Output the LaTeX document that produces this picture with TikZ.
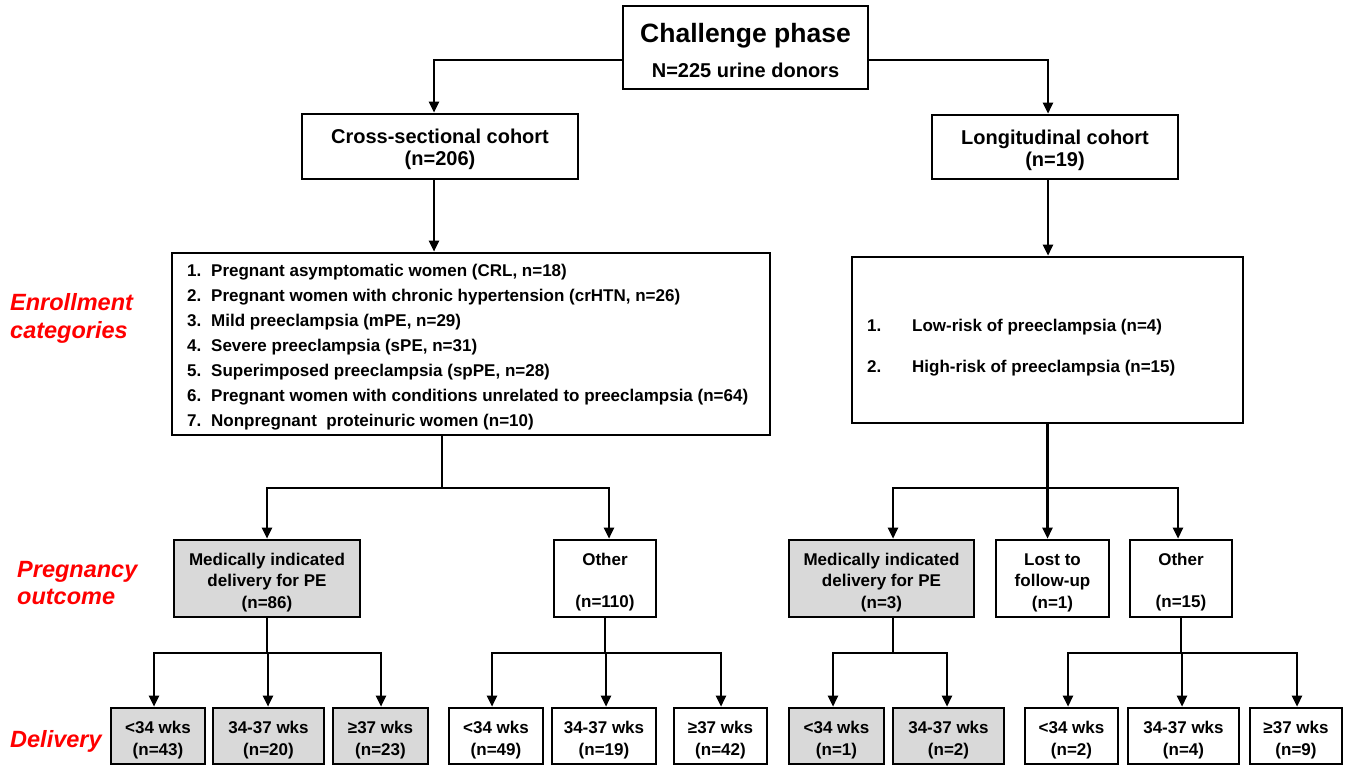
\documentclass[tikz,border=0pt]{standalone}
\usepackage{fontspec}
\setmainfont{Liberation Sans}
\usetikzlibrary{arrows.meta}
\newcommand\fsz[2]{\fontsize{#1}{#2}\selectfont\bfseries}
\newcommand\st{\rule{0pt}{20.5pt}}
\begin{document}
\begin{tikzpicture}[x=1pt,y=-1pt,
  box/.style={draw, line width=2.6pt, inner sep=0pt, align=center, font=\fsz{17}{21.5}},
  cbox/.style={box, font=\fsz{20}{22}},
  gbox/.style={box, fill=black!15},
  ln/.style={line width=2.4pt},
  arr/.style={line width=2.4pt, -{Triangle[length=11pt,width=10pt]}},
  lbl/.style={anchor=base west, inner sep=0pt, text=red, font=\fontsize{23.5}{28}\selectfont\bfseries\itshape},
  item/.style={anchor=base west, inner sep=0pt, font=\fsz{17}{21}}
]
\useasboundingbox (0,0) rectangle (1350,766);

% top
\node[box, minimum width=245pt, minimum height=83pt] (top) at (745.5,47.5) {};
\node[anchor=base, inner sep=0pt, font=\fsz{26.5}{30}] (topT) at (745.5,42) {Challenge phase};
\node[anchor=base, inner sep=0pt, font=\fsz{20}{22}] (topS) at (745.5,77) {N=225 urine donors};

% cohorts
\node[cbox, minimum width=276pt, minimum height=65pt] (cross) at (440,146.5) {\st Cross-sectional cohort\\(n=206)};
\node[cbox, minimum width=246pt, minimum height=64pt] (long) at (1055,147) {\st Longitudinal cohort\\(n=19)};

% lists
\node[box, minimum width=598pt, minimum height=182pt] (list) at (471,344) {};
\node[item] (c1) at (187,276) {\makebox[24pt][l]{1.}Pregnant asymptomatic women (CRL, n=18)};
\node[item] (c2) at (187,301) {\makebox[24pt][l]{2.}Pregnant women with chronic hypertension (crHTN, n=26)};
\node[item] (c3) at (187,326) {\makebox[24pt][l]{3.}Mild preeclampsia (mPE, n=29)};
\node[item] (c4) at (187,351) {\makebox[24pt][l]{4.}Severe preeclampsia (sPE, n=31)};
\node[item] (c5) at (187,376) {\makebox[24pt][l]{5.}Superimposed preeclampsia (spPE, n=28)};
\node[item] (c6) at (187,401) {\makebox[24pt][l]{6.}Pregnant women with conditions unrelated to preeclampsia (n=64)};
\node[item] (c7) at (187,426) {\makebox[24pt][l]{7.}Nonpregnant\ \ proteinuric women (n=10)};

\node[box, minimum width=391pt, minimum height=166pt] (llist) at (1047.5,340) {};
\node[item] (l1) at (867,331) {\makebox[45pt][l]{1.}Low-risk of preeclampsia (n=4)};
\node[item] (l2) at (867,372) {\makebox[45pt][l]{2.}High-risk of preeclampsia (n=15)};

% outcomes
\node[gbox, minimum width=186pt, minimum height=77pt] (medL) at (267,578.5) {\st Medically indicated\\delivery for PE\\(n=86)};
\node[box, minimum width=102pt, minimum height=77pt] (othL) at (605,578.5) {\st Other\\[20.5pt](n=110)};
\node[gbox, minimum width=185pt, minimum height=77pt] (medR) at (881.5,578.5) {\st Medically indicated\\delivery for PE\\(n=3)};
\node[box, minimum width=113pt, minimum height=77pt] (lost) at (1052.5,578.5) {\st Lost to\\follow-up\\(n=1)};
\node[box, minimum width=102pt, minimum height=77pt] (othR) at (1181,578.5) {\st Other\\[20.5pt](n=15)};

% delivery
\node[gbox, minimum width=94pt, minimum height=56pt] (d1) at (158,736) {\st <34 wks\\(n=43)};
\node[gbox, minimum width=111pt, minimum height=56pt] (d2) at (268.5,736) {\st 34-37 wks\\(n=20)};
\node[gbox, minimum width=95pt, minimum height=56pt] (d3) at (380.5,736) {\st ≥37 wks\\(n=23)};
\node[box, minimum width=94pt, minimum height=56pt] (o1) at (496,736) {\st <34 wks\\(n=49)};
\node[box, minimum width=104pt, minimum height=56pt] (o2) at (604,736) {\st 34-37 wks\\(n=19)};
\node[box, minimum width=93pt, minimum height=56pt] (o3) at (720.5,736) {\st ≥37 wks\\(n=42)};
\node[gbox, minimum width=95pt, minimum height=56pt] (r1) at (836.5,736) {\st <34 wks\\(n=1)};
\node[gbox, minimum width=111pt, minimum height=56pt] (r2) at (948.5,736) {\st 34-37 wks\\(n=2)};
\node[box, minimum width=93pt, minimum height=56pt] (s1) at (1071.5,736) {\st <34 wks\\(n=2)};
\node[box, minimum width=111pt, minimum height=56pt] (s2) at (1183.5,736) {\st 34-37 wks\\(n=4)};
\node[box, minimum width=92pt, minimum height=56pt] (s3) at (1296,736) {\st ≥37 wks\\(n=9)};

% side labels
\node[lbl] (e1) at (10,310) {Enrollment};
\node[lbl] (e2) at (10,338) {categories};
\node[lbl] (p1) at (17,577) {Pregnancy};
\node[lbl] (p2) at (17,604) {outcome};
\node[lbl] (dl) at (10,747) {Delivery};

% connectors top
\draw[arr] ([yshift=-12.5pt]top.west) -| ([xshift=-6pt]cross.north);
\draw[arr] ([yshift=-12.5pt]top.east) -| ([xshift=-7pt]long.north);
\coordinate (cA) at ([xshift=-6pt]cross.south);
\draw[arr] (cA) -- (cA |- list.north);
\coordinate (cB) at ([xshift=-7pt]long.south);
\draw[arr] (cB) -- (cB |- llist.north);

% list to outcomes
\coordinate (jA) at (442,488);
\coordinate (jB) at (1047.5,488);
\draw[ln] (list.south -| jA) -- (jA);
\draw[arr] (jA) -| (medL.north);
\draw[arr] (jA) -| ([xshift=4pt]othL.north);
\draw[arr] (llist.south) -- (llist.south |- lost.north);
\draw[arr] (jB) -| ([xshift=11.5pt]medR.north);
\draw[arr] (jB) -| ([xshift=-3pt]othR.north);

% outcomes to delivery
\coordinate (jC) at (267,653);
\coordinate (jD) at (605,653);
\coordinate (jE) at (893,653);
\coordinate (jF) at (1181,653);
\draw[ln] (medL.south) -- (jC);
\draw[arr] (jC) -| ([xshift=-4pt]d1.north);
\draw[arr] (jC) -| ([xshift=-0.5pt]d2.north);
\draw[arr] (jC) -| ([xshift=0.5pt]d3.north);
\draw[ln] (othL.south) -- (jD);
\draw[arr] (jD) -| ([xshift=-4pt]o1.north);
\draw[arr] (jD) -| ([xshift=2pt]o2.north);
\draw[arr] (jD) -| ([xshift=0.5pt]o3.north);
\draw[ln] ([xshift=11.5pt]medR.south) -- (jE);
\draw[arr] (jE) -| ([xshift=-3.5pt]r1.north);
\draw[arr] (jE) -| ([xshift=-1.5pt]r2.north);
\draw[ln] (othR.south) -- (jF);
\draw[arr] (jF) -| ([xshift=-3.5pt]s1.north);
\draw[arr] (jF) -| ([xshift=-1.5pt]s2.north);
\draw[arr] (jF) -| ([xshift=1pt]s3.north);
\end{tikzpicture}
\end{document}
